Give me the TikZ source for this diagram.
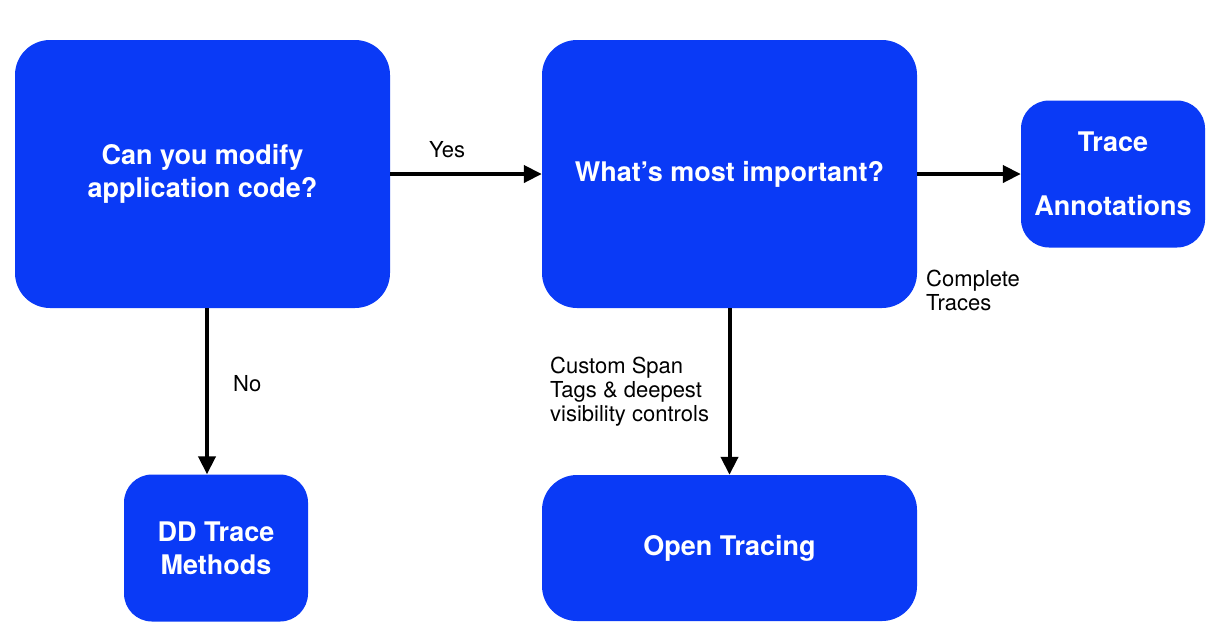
\documentclass[tikz,border=0pt]{standalone}
\usepackage{fontspec}
\setmainfont{TeX Gyre Heros}
\usetikzlibrary{positioning, arrows.meta, calc}
\definecolor{ddblue}{HTML}{0A3AF6}

\begin{document}
\begin{tikzpicture}[
    x=1pt, y=-1pt,
    boxnode/.style={
        rectangle, rounded corners=35pt, fill=ddblue, text=white,
        minimum width=375pt, minimum height=268pt, align=center,
        font=\fontsize{27}{33}\selectfont\bfseries
    },
    smallbox/.style={boxnode, rounded corners=28pt, minimum width=184pt, minimum height=147pt},
    labelnode/.style={font=\fontsize{22}{24}\selectfont, align=left, inner sep=0pt},
    arrow/.style={-{Triangle[length=18pt, width=17pt]}, line width=4pt},
]
\useasboundingbox (0,0) rectangle (1222,638);

\node[boxnode] (modify) at (202.5,174) {Can you modify\\application code?};
\node[boxnode] (important) at (729.5,174) {What’s most important?};
\node[smallbox] (annot) at (1113,174) {Trace\\[31pt]Annotations};
\node[smallbox] (ddtrace) at (216,548) {DD Trace\\Methods};
\node[boxnode, minimum height=146pt] (opentr) at (729.5,548) {Open Tracing};

% Edge labels
\node[labelnode, anchor=base west] (yes) at (429,157) {Yes};
\node[labelnode, anchor=base west] (no) at (233,391) {No};
\node[labelnode, anchor=north west] (custom) at (550,357) {Custom Span\\Tags \& deepest\\visibility controls};
\node[labelnode, anchor=north west] (complete) at (926,270) {Complete\\Traces};

\draw[arrow] (modify) -- (important);
\draw[arrow] (important) -- (annot);
\draw[arrow] ([xshift=4.5pt]modify.south) -- ([xshift=-9pt]ddtrace.north);
\draw[arrow] (important) -- (opentr);
\end{tikzpicture}
\end{document}
